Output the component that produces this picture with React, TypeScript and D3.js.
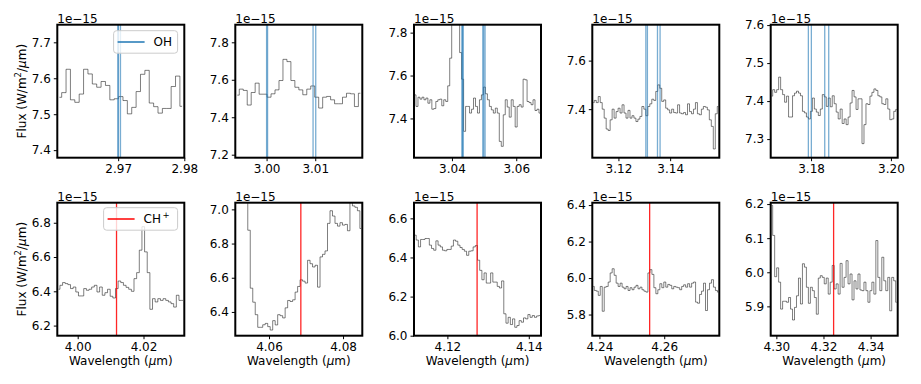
import React, { useRef, useEffect } from "react";
import * as d3 from "d3";

// flux in units of 1e-15 W/m^2/um
// top row: OH windows
const ohFlux1 = [7.547, 7.56, 7.625, 7.54, 7.533, 7.556, 7.625, 7.612, 7.584, 7.575, 7.591, 7.58, 7.54, 7.543, 7.549, 7.538, 7.501, 7.519, 7.563, 7.611, 7.622, 7.531, 7.521, 7.503, 7.516, 7.516, 7.577, 7.606, 7.522];
const ohFlux2 = [7.518, 7.55, 7.543, 7.465, 7.532, 7.582, 7.523, 7.523, 7.507, 7.525, 7.546, 7.596, 7.709, 7.697, 7.596, 7.56, 7.546, 7.52, 7.55, 7.567, 7.507, 7.449, 7.507, 7.511, 7.493, 7.472, 7.472, 7.507, 7.528, 7.525, 7.457, 7.528];
const ohFlux3 = [7.51, 7.456, 7.499, 7.49, 7.499, 7.487, 7.495, 7.471, 7.487, 7.443, 7.446, 7.479, 7.487, 7.49, 7.459, 7.487, 7.479, 7.552, 7.681, 7.95, 8.05, 8.0, 7.9, 7.707, 7.583, 7.34, 7.456, 7.456, 7.425, 7.443, 7.495, 7.456, 7.425, 7.487, 7.51, 7.546, 7.515, 7.487, 7.456, 7.44, 7.425, 7.448, 7.425, 7.293, 7.27, 7.417, 7.487, 7.453, 7.406, 7.487, 7.456, 7.36, 7.456, 7.464, 7.453, 7.583, 7.58, 7.479, 7.474, 7.464, 7.487, 7.437, 7.443, 7.425];
const ohFlux4 = [7.427, 7.436, 7.427, 7.452, 7.427, 7.4, 7.363, 7.318, 7.312, 7.356, 7.4, 7.363, 7.39, 7.404, 7.384, 7.418, 7.384, 7.363, 7.395, 7.363, 7.373, 7.363, 7.349, 7.359, 7.37, 7.411, 7.4, 7.373, 7.411, 7.422, 7.441, 7.436, 7.473, 7.5, 7.486, 7.432, 7.438, 7.404, 7.397, 7.384, 7.4, 7.386, 7.384, 7.418, 7.384, 7.381, 7.386, 7.377, 7.422, 7.39, 7.381, 7.4, 7.427, 7.381, 7.377, 7.4, 7.411, 7.408, 7.397, 7.356, 7.329, 7.236, 7.381, 7.411];
const ohFlux5 = [7.413, 7.43, 7.423, 7.43, 7.463, 7.43, 7.417, 7.397, 7.413, 7.358, 7.358, 7.414, 7.421, 7.426, 7.421, 7.414, 7.373, 7.369, 7.358, 7.353, 7.373, 7.408, 7.379, 7.371, 7.362, 7.379, 7.417, 7.411, 7.386, 7.408, 7.385, 7.414, 7.393, 7.371, 7.353, 7.379, 7.341, 7.353, 7.338, 7.358, 7.395, 7.428, 7.411, 7.378, 7.406, 7.406, 7.288, 7.338, 7.393, 7.391, 7.413, 7.423, 7.432, 7.428, 7.414, 7.411, 7.393, 7.391, 7.406, 7.379, 7.351, 7.353, 7.373, 7.378];

// bottom row: CH+ windows
const chFlux1 = [6.412, 6.435, 6.451, 6.445, 6.439, 6.416, 6.425, 6.396, 6.373, 6.373, 6.416, 6.406, 6.412, 6.425, 6.435, 6.396, 6.425, 6.377, 6.392, 6.412, 6.371, 6.361, 6.416, 6.46, 6.451, 6.435, 6.423, 6.412, 6.4, 6.474, 6.509, 6.64, 6.777, 6.63, 6.509, 6.295, 6.357, 6.338, 6.357, 6.347, 6.357, 6.347, 6.338, 6.328, 6.308, 6.377, 6.347, 6.347];
const chFlux2 = [7.45, 7.4, 7.35, 7.25, 7.15, 6.878, 6.539, 6.457, 6.384, 6.31, 6.31, 6.325, 6.333, 6.314, 6.294, 6.349, 6.324, 6.384, 6.378, 6.365, 6.424, 6.467, 6.461, 6.471, 6.516, 6.549, 6.588, 6.58, 6.569, 6.702, 6.682, 6.663, 6.673, 6.545, 6.722, 6.737, 6.757, 6.918, 6.992, 6.961, 6.918, 6.902, 6.922, 6.908, 6.912, 6.875, 7.055, 7.02, 7.012, 6.992, 6.888];
const chFlux3 = [6.514, 6.489, 6.454, 6.492, 6.492, 6.497, 6.497, 6.463, 6.446, 6.437, 6.485, 6.463, 6.454, 6.437, 6.434, 6.441, 6.441, 6.458, 6.489, 6.483, 6.463, 6.451, 6.441, 6.432, 6.411, 6.432, 6.434, 6.454, 6.461, 6.386, 6.334, 6.286, 6.321, 6.269, 6.269, 6.321, 6.274, 6.274, 6.252, 6.244, 6.28, 6.112, 6.064, 6.094, 6.057, 6.086, 6.043, 6.052, 6.077, 6.069, 6.091, 6.086, 6.108, 6.094, 6.103, 6.094, 6.101, 6.103];
const chFlux4 = [5.954, 5.932, 5.928, 5.905, 5.954, 5.818, 5.95, 5.954, 5.978, 6.028, 6.051, 6.015, 5.972, 5.954, 5.972, 5.95, 5.941, 5.954, 5.932, 5.947, 5.936, 5.95, 5.96, 5.941, 5.95, 5.936, 5.928, 5.923, 6.028, 6.046, 6.02, 5.947, 5.914, 5.936, 5.969, 5.947, 5.978, 5.95, 5.965, 5.96, 5.941, 5.954, 5.95, 5.947, 5.936, 5.954, 5.963, 5.95, 5.969, 5.95, 5.972, 5.978, 5.868, 5.862, 5.91, 5.928, 5.972, 5.822, 5.936, 5.972, 5.991, 5.95, 5.932, 5.923];
const chFlux5 = [6.196, 6.108, 5.987, 6.013, 5.971, 5.892, 5.915, 5.915, 5.912, 5.926, 5.892, 5.86, 5.897, 5.931, 5.983, 5.907, 6.025, 6.015, 5.956, 5.909, 5.956, 5.946, 5.926, 5.877, 5.983, 5.99, 5.985, 5.966, 5.983, 5.936, 5.971, 6.02, 5.951, 5.966, 5.936, 6.026, 5.956, 5.985, 6.034, 5.966, 5.995, 5.919, 5.975, 5.951, 5.995, 5.948, 5.946, 5.971, 5.946, 5.912, 5.946, 5.971, 5.936, 6.093, 5.985, 5.946, 6.044, 5.975, 5.946, 5.985, 5.887, 5.985, 5.975, 5.912];

// wavelength grid of each cutout: first bin centre and bin width (um)
const ohGridStart = [2.96113, 2.99398, 3.02851, 3.11028, 3.17015];
const ohGridStep = [0.000662, 0.000816, 0.000617, 0.000767, 0.000497];
const chGridStart = [3.9942, 4.05124, 4.11207, 4.23811, 4.29802];
const chGridStep = [0.000804, 0.000673, 0.000538, 0.000613, 0.000842];

// axis limits
const ohXLim = [[2.9608, 2.98], [2.99357, 3.01967], [3.0282, 3.0677], [3.1099, 3.159], [3.1699, 3.2017]];
const ohYLim = [[7.379, 7.749], [7.184, 7.894], [7.217, 7.837], [7.2, 7.748], [7.251, 7.601]];
const chXLim = [[3.9938, 4.0324], [4.0509, 4.0852], [4.1118, 4.143], [4.2378, 4.277], [4.2976, 4.3515]];
const chYLim = [[6.141, 6.917], [6.261, 7.039], [6.0, 6.68], [5.684, 6.413], [5.814, 6.204]];

// tick values
const ohXTicks = [[2.97, 2.98], [3.0, 3.01], [3.04, 3.06], [3.12, 3.14], [3.18, 3.2]];
const ohYTicks = [[7.4, 7.5, 7.6, 7.7], [7.2, 7.4, 7.6, 7.8], [7.4, 7.6, 7.8], [7.4, 7.6], [7.3, 7.4, 7.5, 7.6]];
const chXTicks = [[4.0, 4.02], [4.06, 4.08], [4.12, 4.14], [4.24, 4.26], [4.3, 4.32, 4.34]];
const chYTicks = [[6.2, 6.4, 6.6, 6.8], [6.4, 6.6, 6.8, 7.0], [6.0, 6.2, 6.4, 6.6], [5.8, 6.0, 6.2, 6.4], [5.9, 6.0, 6.1, 6.2]];

// line positions (um)
const ohLines = [
  [2.96995, 2.97005, 2.97035],
  [3.0, 3.0002, 3.00955, 3.0101],
  [3.0431, 3.0433, 3.0435, 3.0496, 3.0499, 3.0503],
  [3.1306, 3.1312, 3.1351, 3.1361],
  [3.17933, 3.18008, 3.18343, 3.18443],
];
const chLines = [4.0118, 4.0686, 4.1273, 4.2555, 4.3243];

const ohFlux = [ohFlux1, ohFlux2, ohFlux3, ohFlux4, ohFlux5];
const chFlux = [chFlux1, chFlux2, chFlux3, chFlux4, chFlux5];

const W = 921;
const H = 384;
const panelLeft = [57.3, 235.3, 414, 592.3, 770.7];
const panelW = 127;
const rowTop = [24.7, 202.7];
const panelH = 133;
const FONT = "DejaVu Sans, Verdana, sans-serif";

const App = () => {
  const svgRef = useRef(null);

  useEffect(() => {
    const svg = d3.select(svgRef.current);
    svg.selectAll("*").remove();

    const rows = [
      { flux: ohFlux, start: ohGridStart, step: ohGridStep, xlim: ohXLim, ylim: ohYLim, xt: ohXTicks, yt: ohYTicks, lines: ohLines.map((l) => l), color: "#1f77b4", label: "OH" },
      { flux: chFlux, start: chGridStart, step: chGridStep, xlim: chXLim, ylim: chYLim, xt: chXTicks, yt: chYTicks, lines: chLines.map((l) => [l]), color: "#ff0000", label: "CH" },
    ];

    rows.forEach((row, r) => {
      for (let i = 0; i < 5; i++) {
        const left = panelLeft[i];
        const top = rowTop[r];
        const x = d3.scaleLinear().domain(row.xlim[i]).range([left, left + panelW]);
        const y = d3.scaleLinear().domain(row.ylim[i]).range([top + panelH, top]);
        const g = svg.append("g");
        const clipId = `clip-${r}-${i}`;
        g.append("clipPath")
          .attr("id", clipId)
          .append("rect")
          .attr("x", left)
          .attr("y", top)
          .attr("width", panelW)
          .attr("height", panelH);

        const pts = row.flux[i].map((f, k) => [row.start[i] + k * row.step[i], f]);
        const line = d3
          .line()
          .x((d) => x(d[0]))
          .y((d) => y(d[1]))
          .curve(d3.curveStep);

        g.append("path")
          .datum(pts)
          .attr("d", line)
          .attr("fill", "none")
          .attr("stroke", "#000")
          .attr("stroke-opacity", 0.5)
          .attr("stroke-width", 1)
          .attr("clip-path", `url(#${clipId})`);

        // species lines
        row.lines[i].forEach((wl) => {
          g.append("line")
            .attr("x1", x(wl))
            .attr("x2", x(wl))
            .attr("y1", top)
            .attr("y2", top + panelH)
            .attr("stroke", row.color)
            .attr("stroke-opacity", r === 0 ? 0.6 : 0.85)
            .attr("stroke-width", 1.3);
        });

        // axes
        const xAxis = d3.axisBottom(x).tickValues(row.xt[i]).tickFormat(d3.format(".2f")).tickSize(3.5).tickPadding(3);
        const yAxis = d3.axisLeft(y).tickValues(row.yt[i]).tickFormat(d3.format(".1f")).tickSize(3.5).tickPadding(3);
        const gx = g.append("g").attr("transform", `translate(0,${top + panelH})`).call(xAxis);
        const gy = g.append("g").attr("transform", `translate(${left},0)`).call(yAxis);
        [gx, gy].forEach((a) => {
          a.select(".domain").remove();
          a.attr("font-family", FONT).attr("font-size", 12);
          a.selectAll("line").attr("stroke", "#000").attr("stroke-width", 1);
          a.selectAll("text").attr("fill", "#000");
        });

        g.append("rect")
          .attr("x", left)
          .attr("y", top)
          .attr("width", panelW)
          .attr("height", panelH)
          .attr("fill", "none")
          .attr("stroke", "#000")
          .attr("stroke-width", 2);

        g.append("text")
          .attr("x", left)
          .attr("y", top - 2)
          .attr("font-family", FONT)
          .attr("font-size", 12)
          .text("1e\u221215");

        if (r === 1) {
          const xl = g.append("text")
            .attr("x", left + panelW / 2)
            .attr("y", 365)
            .attr("text-anchor", "middle")
            .attr("font-family", FONT)
            .attr("font-size", 12);
          xl.append("tspan").text("Wavelength (");
          xl.append("tspan").attr("font-style", "italic").text("\u03bc");
          xl.append("tspan").text("m)");
        }

        if (i === 0) {
          // y label
          const cy = top + panelH / 2;
          const yl = g.append("text")
            .attr("transform", `translate(26,${cy}) rotate(-90)`)
            .attr("text-anchor", "middle")
            .attr("font-family", FONT)
            .attr("font-size", 12);
          yl.append("tspan").text("Flux (W/m");
          yl.append("tspan").attr("font-size", 8.5).attr("dy", -5).text("2");
          yl.append("tspan").attr("dy", 5).text("/");
          yl.append("tspan").attr("font-style", "italic").text("\u03bc");
          yl.append("tspan").text("m)");

          // legend
          const lw = r === 0 ? 64 : 74;
          const lx = left + panelW - 6.7 - lw;
          const ly = top + (r === 0 ? 6 : 5);
          g.append("rect")
            .attr("x", lx)
            .attr("y", ly)
            .attr("width", lw)
            .attr("height", 22.5)
            .attr("rx", 3)
            .attr("fill", "#fff")
            .attr("fill-opacity", 0.8)
            .attr("stroke", "#ccc")
            .attr("stroke-width", 1);
          g.append("line")
            .attr("x1", lx + 4)
            .attr("x2", lx + 31)
            .attr("y1", ly + 11.3)
            .attr("y2", ly + 11.3)
            .attr("stroke", row.color)
            .attr("stroke-width", 1.5);
          const lt = g.append("text")
            .attr("x", lx + 40)
            .attr("y", ly + 15.5)
            .attr("font-family", FONT)
            .attr("font-size", 12);
          lt.append("tspan").text(row.label);
          if (r === 1) {
            lt.append("tspan").attr("font-size", 8.5).attr("dy", -5).attr("dx", 1.5).text("+");
          }
        }
      }
    });
  }, []);

  return (
    <svg
      ref={svgRef}
      width={W}
      height={H}
      style={{ position: "absolute", left: 0, top: 0, background: "#fff" }}
    ></svg>
  );
};

export default App;
